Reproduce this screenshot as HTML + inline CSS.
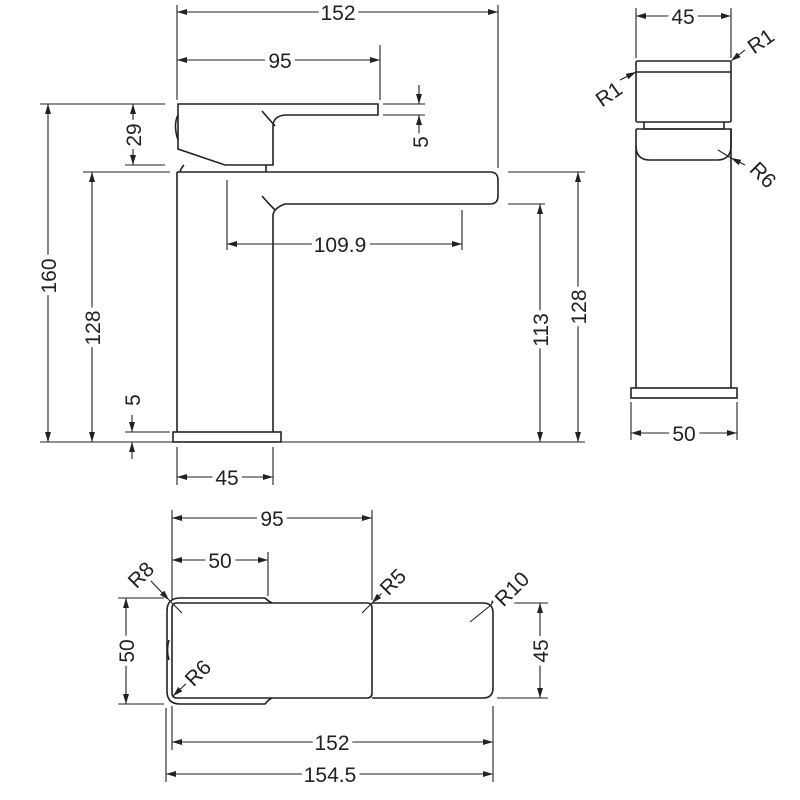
<!DOCTYPE html>
<html><head><style>body{margin:0;background:#fff}svg{display:block}text{font-family:"Liberation Sans",sans-serif;font-size:21px;fill:#222;stroke:#fff;stroke-width:9px;paint-order:stroke;stroke-linejoin:round}</style></head><body>
<svg width="800" height="800" viewBox="0 0 800 800" xmlns="http://www.w3.org/2000/svg">
<defs><marker id="a" viewBox="0 0 10 6" refX="10" refY="3" markerWidth="10" markerHeight="6" orient="auto-start-reverse" markerUnits="userSpaceOnUse"><path d="M0,0L10,3L0,6z" fill="#222"/></marker></defs>
<g fill="none" stroke="#222" stroke-width="1.6">
<path d="M177,172 H490 Q498,172 498,180 V196 Q498,204 490,204 H285 Q274,208 273,215 V432"/>
<path d="M177,172 V432"/>
<rect x="173" y="432" width="108" height="10"/>
<path d="M178,104 H378 V115 H285 Q274,116 273,125 V165 H225 L178,149 Z"/>
<path d="M178,115 Q173,125 178,140"/>
<path d="M184,165 Q181,168 180,172 M266,165 V172 M262,111 Q268,118 275,126 M262,196 Q268,203 275,210"/>
<g stroke-width="1.1">
<path d="M177,5 V100 M498,5 V168 M380,45 V100 M40,104 H165 M383,104 H425 M383,115 H425 M125,165 H165 M83,172 H170 M508,172 H585 M508,204 H545 M40,442 H585 M125,432 H170 M227,180 V250 M462,210 V250 M177,447 V485 M273,447 V485"/>
<path d="M636,8 V58 M731,8 V58 M631,402 V440 M737,402 V440"/>
<path d="M172,510 V600 M372,510 V600 M268,552 V596 M118,598 H164 M118,704 H164 M497,603 H548 M497,698 H548 M166,708 V782 M172,706 V750 M493,706 V782"/>
</g>
<g stroke-width="1.1" marker-start="url(#a)" marker-end="url(#a)">
<path d="M177,12 H498"/>
<path d="M177,60 H380"/>
<path d="M48,104 V442"/>
<path d="M92,172 V442"/>
<path d="M133,104 V165"/>
<path d="M177,477 H273"/>
<path d="M227,244 H462"/>
<path d="M540,204 V442"/>
<path d="M578,172 V442"/>
<path d="M636,16 H731"/>
<path d="M631,433 H737"/>
<path d="M172,518 H372"/>
<path d="M172,560 H268"/>
<path d="M126,598 V704"/>
<path d="M540,603 V698"/>
<path d="M172,742 H493"/>
<path d="M166,774 H493"/>
</g>
<g stroke-width="1.1">
<path d="M419,85 V104" marker-end="url(#a)"/><path d="M419,134 V115" marker-end="url(#a)"/>
<path d="M132,415 V432" marker-end="url(#a)"/><path d="M132,459 V442" marker-end="url(#a)"/>
</g>
<rect x="636" y="61" width="95" height="61" rx="1.5"/>
<path d="M636,72 H731 M644,122 V129 H724 V122"/>
<path d="M636,129 V388 M731,129 V388"/>
<path d="M636,129 H731 V146 Q731,160 717,160 H650 Q636,160 636,146"/>
<rect x="631" y="388" width="106" height="10"/>
<g stroke-width="1.1"><path d="M620,80 L636,72" marker-end="url(#a)"/><path d="M745,50 L731,61" marker-end="url(#a)"/><path d="M745,165 L731,158" marker-end="url(#a)"/><path d="M718,150 L731,158"/></g>
<path d="M265,598 H180 Q167,598 167,611 V691 Q167,704 180,704 H265 Q268,700 272,698"/>
<path d="M265,598 Q268,601 272,603"/>
<path d="M177,603 H367 Q372,603 372,608 V693 Q372,698 367,698 H177 Q172,698 172,693 V608 Q172,603 177,603 Z"/>
<path d="M372,603 H483 Q493,603 493,613 V688 Q493,698 483,698 H372"/>
<path d="M169,640 Q166,650 169,660"/>
<g stroke-width="1.1">
<path d="M150,580 L169,600" marker-end="url(#a)"/><path d="M169,600 L182,613"/>
<path d="M385,590 L372,603" marker-end="url(#a)"/><path d="M372,603 L362,613"/>
<path d="M500,587 L491,605" marker-end="url(#a)"/><path d="M491,605 L470,622"/>
<path d="M190,680 L173,696" marker-end="url(#a)"/>
</g>
</g>
<g text-anchor="middle">
<text x="338" y="20">152</text>
<text x="280" y="68">95</text>
<text transform="translate(141,135) rotate(-90)">29</text>
<text transform="translate(428,142) rotate(-90)">5</text>
<text transform="translate(56,276) rotate(-90)">160</text>
<text transform="translate(100,328) rotate(-90)">128</text>
<text transform="translate(140,400) rotate(-90)">5</text>
<text x="227" y="485">45</text>
<text x="340" y="252">109.9</text>
<text transform="translate(548,330) rotate(-90)">113</text>
<text transform="translate(586,307) rotate(-90)">128</text>
<text x="683" y="24">45</text>
<text x="684" y="441">50</text>
<text transform="translate(613,100) rotate(-35)">R1</text>
<text transform="translate(765,47) rotate(-35)">R1</text>
<text transform="translate(758,180) rotate(45)">R6</text>
<text x="272" y="526">95</text>
<text x="220" y="568">50</text>
<text transform="translate(134,651) rotate(-90)">50</text>
<text transform="translate(548,651) rotate(-90)">45</text>
<text x="332" y="750">152</text>
<text x="330" y="782">154.5</text>
<text transform="translate(146,580) rotate(-45)">R8</text>
<text transform="translate(398,587) rotate(-45)">R5</text>
<text transform="translate(517,594) rotate(-45)">R10</text>
<text transform="translate(203,678) rotate(-45)">R6</text>
</g>
</svg>
</body></html>
